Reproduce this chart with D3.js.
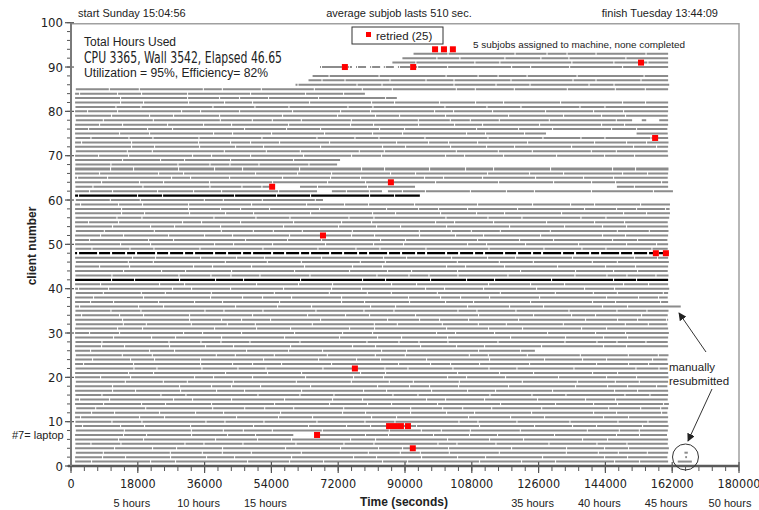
<!DOCTYPE html>
<html>
<head>
<meta charset="utf-8">
<script src="https://cdn.jsdelivr.net/npm/d3@7"></script>
<style>
  body { margin: 0; background: #fff; }
  text { font-family: "Liberation Sans", Arial, sans-serif; fill: #222; }
  .narrow { font-family: "Liberation Sans Narrow", "DejaVu Sans Condensed", "Liberation Sans", sans-serif; }
</style>
</head>
<body>
<div id="chart"></div>
<script>
const width = 759, height = 510;

// client rows (89 has no work) with the time of first start and last end, seconds
const clientIds = [
  1, 2, 3, 4, 5, 6, 7, 8, 9, 10, 11, 12, 13, 14, 15, 16, 17, 18, 19, 20,
  21, 22, 23, 24, 25, 26, 27, 28, 29, 30, 31, 32, 33, 34, 35, 36, 37, 38, 39, 40,
  41, 42, 43, 44, 45, 46, 47, 48, 49, 50, 51, 52, 53, 54, 55, 56, 57, 58, 59, 60,
  61, 62, 63, 64, 65, 66, 67, 68, 69, 70, 71, 72, 73, 74, 75, 76, 77, 78, 79, 80,
  81, 82, 83, 84, 85, 86, 87, 88, 90, 91, 92, 93
];
const rowStart = [
  1100, 1100, 1300, 1100, 1200, 1100, 1100, 1300, 1100, 1200, 1100, 1100, 1400, 1100, 1100, 1200, 1100, 1100, 1300, 1100,
  1100, 1200, 1100, 1100, 1300, 1100, 1100, 1200, 1100, 1100, 1100, 1300, 1100, 1100, 1200, 1100, 1100, 1100, 1300, 1100,
  1100, 1100, 1200, 1100, 1100, 1300, 1100, 1100, 1200, 1100, 1100, 1100, 1300, 1100, 1100, 1200, 1100, 1100, 1100, 1300,
  1100, 1100, 1200, 1100, 1100, 1100, 1100, 1200, 1100, 1100, 1300, 1100, 1100, 1200, 1100, 1100, 1100, 1300, 1100, 1100,
  1200, 1100, 1100, 1100, 1300, 60500, 64000, 65100, 67100, 86600, 89300, 92300
];
const rowEnd = [
  160900, 160700, 160900, 161100, 160800, 160900, 160600, 160900, 161000, 160800, 160900, 160700, 160900, 161100, 160800, 160900, 160900, 160700, 160900, 161000,
  160900, 160800, 160900, 160700, 161000, 125000, 160900, 160800, 160900, 161100, 160900, 160700, 160900, 160800, 161000, 164300, 160900, 160800, 160900, 161200,
  160900, 160900, 161000, 160800, 160900, 161100, 160900, 161000, 160800, 160900, 160700, 160900, 161000, 160900, 160800, 161200, 161400, 161300, 161400, 67900,
  94000, 162200, 160900, 160900, 160800, 160900, 161000, 71700, 72500, 160900, 160800, 160900, 161000, 160900, 160800, 160700, 160900, 160900, 160800, 160900,
  160900, 160900, 87800, 79200, 160900, 161200, 160900, 160900, 160900, 160900, 160900, 160900
];

// idle spans inside a row: [client, from, to]
const gaps = [
  [7, 59900, 66300],
  [62, 66300, 70300], [62, 83800, 85400],
  [63, 54200, 61700], [63, 92700, 147100],
  [90, 73000, 74600], [90, 75700, 76800], [90, 79500, 80600], [90, 83300, 84300], [90, 87000, 88100], [90, 91400, 93000],
  [75, 128000, 152400],
  [78, 151200, 153800], [78, 155000, 158500]
];

// manually resubmitted work after the main run: [client, from, to]
const resubmitted = [[1, 163500, 167300], [3, 165300, 166200], [2, 165500, 166000]];

// retried subjobs: [client, time]
const retried = [
  [94, 98100], [94, 100500], [94, 102900],
  [91, 153600], [90, 73800], [90, 92200],
  [74, 157400], [64, 86200], [63, 54200], [52, 67900],
  [48, 157600], [48, 160300], [22, 76500],
  [9, 85700], [9, 87300], [9, 88900], [9, 90800],
  [7, 66300], [4, 92100]
];

const blackRows = [42, 48, 61];
const thickRows = [67];

const xTicks = [0, 18000, 36000, 54000, 72000, 90000, 108000, 126000, 144000, 162000, 180000];
const hourLabels = [[18000, "5 hours"], [36000, "10 hours"], [54000, "15 hours"],
  [126000, "35 hours"], [144000, "40 hours"], [162000, "45 hours"], [180000, "50 hours"]];
const yTicks = [0, 10, 20, 30, 40, 50, 60, 70, 80, 90, 100];

const svg = d3.select("#chart").append("svg")
  .attr("width", width)
  .attr("height", height);

const x = d3.scaleLinear().domain([0, 180000]).range([71, 739]);
const y = d3.scaleLinear().domain([0, 100]).range([466, 22.7]);

// frame (top and right)
svg.append("path")
  .attr("d", `M${x(0)},${y(100) + 1}H${x(180000)}V${y(0)}`)
  .attr("fill", "none")
  .attr("stroke", "#a0a0a0")
  .attr("stroke-width", 1.5);

// split each row into busy runs
const runs = [];
clientIds.forEach((c, i) => {
  let pieces = [[rowStart[i], rowEnd[i]]];
  gaps.filter(g => g[0] === c).forEach(g => {
    const next = [];
    pieces.forEach(p => {
      if (g[2] <= p[0] || g[1] >= p[1]) { next.push(p); return; }
      if (g[1] > p[0]) next.push([p[0], g[1]]);
      if (g[2] < p[1]) next.push([g[2], p[1]]);
    });
    pieces = next;
  });
  pieces.forEach(p => runs.push({client: c, t0: p[0], t1: p[1]}));
});
resubmitted.forEach(r => runs.push({client: r[0], t0: r[1], t1: r[2]}));

// small breaks between consecutive subjobs (texture only)
const textures = [
  "47,1,29,1,63,1,18,1,38,1,52,1",
  "33,1,58,1,24,1,71,1,41,1",
  "61,1,22,1,44,1,35,1,27,1,56,1",
  "28,1,49,1,66,1,31,1,19,1",
  "54,1,37,1,23,1,45,1,62,1"
];

svg.append("g").selectAll("line")
  .data(runs)
  .join("line")
  .attr("x1", d => x(d.t0))
  .attr("x2", d => x(d.t1))
  .attr("y1", d => y(d.client))
  .attr("y2", d => y(d.client))
  .attr("stroke", d => blackRows.includes(d.client) ? "#000" : "#8c8c8c")
  .attr("stroke-width", d => thickRows.includes(d.client) ? 3.2 : (blackRows.includes(d.client) ? 2.2 : 2))
  .attr("stroke-dasharray", d => d.client === 48 ? "13,2,8,2,18,2,11,2" : textures[d.client % textures.length])
  .attr("stroke-dashoffset", d => (d.client * 17) % 53);

// axes
const xAxis = svg.append("g");
xAxis.selectAll("line.minor")
  .data(d3.range(0, 180001, 3600))
  .join("line")
  .attr("x1", d => x(d)).attr("x2", d => x(d))
  .attr("y1", y(0)).attr("y2", y(0) + 5)
  .attr("stroke", "#555").attr("stroke-width", 1);
xAxis.selectAll("line.major")
  .data(xTicks)
  .join("line")
  .attr("x1", d => x(d)).attr("x2", d => x(d))
  .attr("y1", y(0) - 4).attr("y2", y(0) + 7)
  .attr("stroke", "#555").attr("stroke-width", 1.2);
xAxis.append("line")
  .attr("x1", x(0) - 3).attr("x2", x(180000))
  .attr("y1", y(0)).attr("y2", y(0))
  .attr("stroke", "#5a5a5a").attr("stroke-width", 2.5);
xAxis.selectAll("text.tick")
  .data(xTicks)
  .join("text")
  .attr("class", "narrow")
  .attr("x", d => x(d))
  .attr("y", 488)
  .attr("text-anchor", "middle")
  .attr("font-size", 12.5)
  .text(d => d);
xAxis.selectAll("text.hours")
  .data(hourLabels)
  .join("text")
  .attr("x", d => Math.min(x(d[0]) - 6, 730))
  .attr("y", 507)
  .attr("text-anchor", "middle")
  .attr("font-size", 11)
  .text(d => d[1]);

const yAxis = svg.append("g");
yAxis.selectAll("line.minor")
  .data(d3.range(0, 101, 2))
  .join("line")
  .attr("x1", x(0) - 4).attr("x2", x(0))
  .attr("y1", d => y(d)).attr("y2", d => y(d))
  .attr("stroke", "#555").attr("stroke-width", 1);
yAxis.selectAll("line.major")
  .data(yTicks)
  .join("line")
  .attr("x1", x(0) - 6).attr("x2", x(0) + 3)
  .attr("y1", d => y(d)).attr("y2", d => y(d))
  .attr("stroke", "#555").attr("stroke-width", 1.2);
yAxis.append("line")
  .attr("x1", x(0)).attr("x2", x(0))
  .attr("y1", y(100)).attr("y2", y(0))
  .attr("stroke", "#7a7a7a").attr("stroke-width", 2);
yAxis.selectAll("text")
  .data(yTicks)
  .join("text")
  .attr("class", "narrow")
  .attr("x", x(0) - 8)
  .attr("y", d => y(d) + 4.5)
  .attr("text-anchor", "end")
  .attr("font-size", 13)
  .text(d => d);

// retried markers
svg.append("g").selectAll("rect")
  .data(retried)
  .join("rect")
  .attr("x", d => x(d[1]) - 3)
  .attr("y", d => y(d[0]) - 3)
  .attr("width", 6)
  .attr("height", 6)
  .attr("fill", "#ff0000");

// legend
svg.append("rect")
  .attr("x", 352).attr("y", 27).attr("width", 91).attr("height", 17)
  .attr("fill", "#fff").attr("stroke", "#333").attr("stroke-width", 1);
svg.append("rect")
  .attr("x", 366).attr("y", 32).attr("width", 5).attr("height", 5)
  .attr("fill", "#ff0000");
svg.append("text").attr("x", 376).attr("y", 39.5).attr("font-size", 11.5).text("retried (25)");

// header and summary texts
svg.append("text").attr("x", 78).attr("y", 17).attr("font-size", 11).text("start Sunday 15:04:56");
svg.append("text").attr("x", 399).attr("y", 17).attr("text-anchor", "middle").attr("font-size", 11).text("average subjob lasts 510 sec.");
svg.append("text").attr("x", 718).attr("y", 17).attr("text-anchor", "end").attr("font-size", 11).text("finish Tuesday 13:44:09");
svg.append("text").attr("x", 84).attr("y", 46).attr("font-size", 12).text("Total Hours Used");
svg.append("text").attr("class", "narrow").attr("x", 84).attr("y", 62.5).attr("font-size", 16)
  .attr("textLength", 198).attr("lengthAdjust", "spacingAndGlyphs")
  .text("CPU 3365, Wall 3542, Elapsed 46.65");
svg.append("text").attr("x", 84).attr("y", 76.5).attr("font-size", 12)
  .attr("textLength", 184).attr("lengthAdjust", "spacingAndGlyphs")
  .text("Utilization = 95%, Efficiency= 82%");
svg.append("text").attr("x", 473).attr("y", 48).attr("font-size", 9.5)
  .attr("textLength", 212).attr("lengthAdjust", "spacingAndGlyphs")
  .text("5 subjobs assigned to machine, none completed");

// axis titles
svg.append("text")
  .attr("transform", "translate(36,246) rotate(-90)")
  .attr("text-anchor", "middle")
  .attr("font-size", 12)
  .attr("font-weight", "bold")
  .text("client number");
svg.append("text")
  .attr("x", 404).attr("y", 506)
  .attr("text-anchor", "middle")
  .attr("font-size", 12)
  .attr("font-weight", "bold")
  .text("Time (seconds)");

// annotations
svg.append("text").attr("x", 12).attr("y", y(7) + 4).attr("font-size", 11).text("#7= laptop");

svg.append("defs").append("marker")
  .attr("id", "head")
  .attr("viewBox", "0 0 10 10")
  .attr("refX", 9).attr("refY", 5)
  .attr("markerWidth", 8).attr("markerHeight", 8)
  .attr("orient", "auto")
  .append("path")
  .attr("d", "M0,0L10,5L0,10Z")
  .attr("fill", "#222");

svg.append("line")
  .attr("x1", 706).attr("y1", 352).attr("x2", 679).attr("y2", 313)
  .attr("stroke", "#333").attr("stroke-width", 1)
  .attr("marker-end", "url(#head)");
svg.append("line")
  .attr("x1", 712).attr("y1", 389).attr("x2", 688).attr("y2", 441)
  .attr("stroke", "#333").attr("stroke-width", 1)
  .attr("marker-end", "url(#head)");
svg.append("text").attr("x", 669).attr("y", 371).attr("font-size", 11.5).attr("fill", "#444").text("manually");
svg.append("text").attr("x", 669).attr("y", 385).attr("font-size", 11.5).attr("fill", "#444").text("resubmitted");
svg.append("circle")
  .attr("cx", 685.5).attr("cy", 457).attr("r", 13)
  .attr("fill", "none").attr("stroke", "#333").attr("stroke-width", 1);
</script>
</body>
</html>
